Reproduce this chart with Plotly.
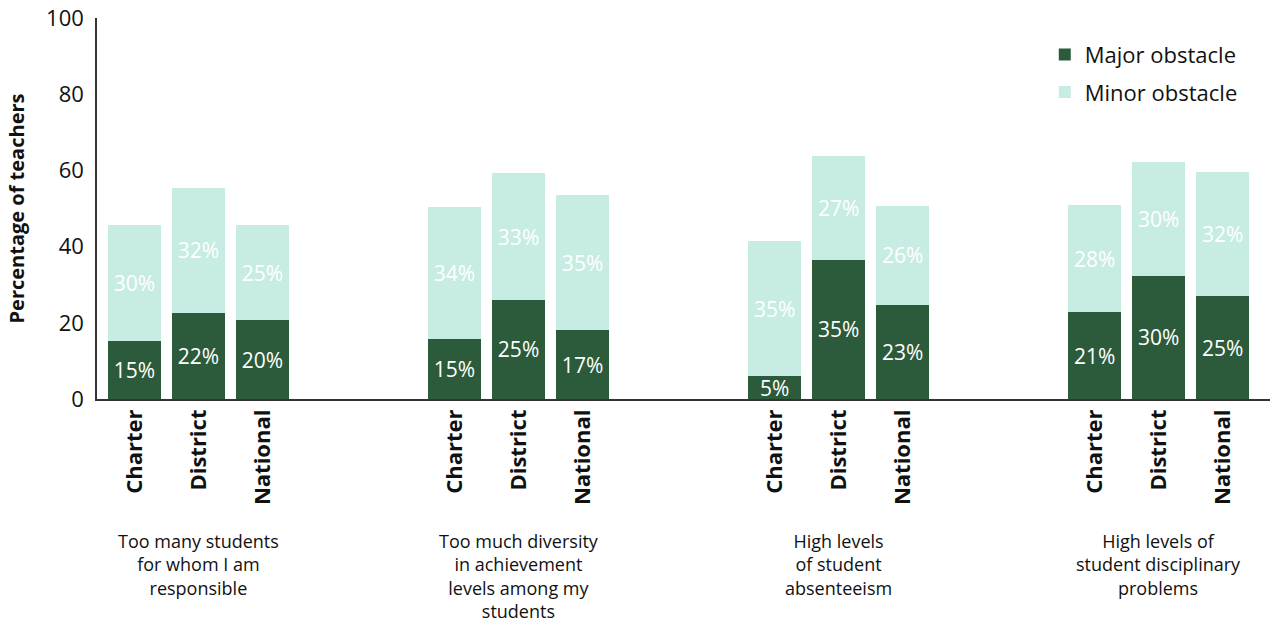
import plotly.graph_objects as go

groups = [
    "Too many students<br>for whom I am<br>responsible",
    "Too much diversity<br>in achievement<br>levels among my<br>students",
    "High levels<br>of student<br>absenteeism",
    "High levels of<br>student disciplinary<br>problems",
]
types = ["Charter", "District", "National"]

# bar heights (percentage of teachers)
major_values = [15.2, 22.6, 20.7, 15.7, 26.0, 18.1, 6.0, 36.5, 24.7, 22.8, 32.3, 27.0]
minor_values = [30.5, 32.8, 25.0, 34.7, 33.3, 35.4, 35.5, 27.3, 26.0, 28.1, 29.9, 32.6]
# printed labels
major_labels = ["15%", "22%", "20%", "15%", "25%", "17%", "5%", "35%", "23%", "21%", "30%", "25%"]
minor_labels = ["30%", "32%", "25%", "34%", "33%", "35%", "35%", "27%", "26%", "28%", "30%", "32%"]

group_step = 5
xpos = [g * group_step + j for g in range(len(groups)) for j in range(len(types))]
xticktext = ["<b>" + t + "</b>" for _ in groups for t in types]
group_centers = [g * group_step + 1 for g in range(len(groups))]

FONT = "Open Sans"
DARK = "#2b5b3a"
LIGHT = "#c7ece3"
INK = "#111111"

W, H = 1275, 624
ML, MR, MT, MB = 97, 5, 18, 225
PLOT_H = H - MT - MB

fig = go.Figure()
fig.add_trace(go.Bar(
    x=xpos, y=major_values, name="Major obstacle", marker_color=DARK,
    marker_line_width=0, width=0.83, text=major_labels, textposition="inside",
    insidetextanchor="middle", textangle=0, constraintext="none",
    textfont=dict(color="white", size=21, family=FONT),
    legendgroup="a",
))
fig.add_trace(go.Bar(
    x=xpos, y=minor_values, name="Minor obstacle", marker_color=LIGHT,
    marker_line_width=0, width=0.83, text=minor_labels, textposition="inside",
    insidetextanchor="middle", textangle=0, constraintext="none",
    textfont=dict(color="white", size=21, family=FONT),
    legendgroup="b",
))

for c, label in zip(group_centers, groups):
    fig.add_annotation(
        x=c, xref="x", y=-128 / PLOT_H, yref="paper", text=label, showarrow=False,
        xanchor="center", yanchor="top", align="center",
        font=dict(size=18, family=FONT, color=INK),
    )

fig.update_layout(
    barmode="stack",
    width=W, height=H,
    margin=dict(l=ML, r=MR, t=MT, b=MB),
    plot_bgcolor="white", paper_bgcolor="white",
    font=dict(family=FONT, color=INK),
    legend=dict(
        x=0.808, xanchor="left", y=0.959, yanchor="top",
        font=dict(size=22, family=FONT, color=INK),
        traceorder="grouped", tracegroupgap=6,
        bgcolor="rgba(0,0,0,0)",
    ),
    showlegend=True,
)
fig.update_xaxes(
    range=[-0.586, 17.74], tickmode="array", tickvals=xpos, ticktext=xticktext,
    tickangle=-90, tickfont=dict(size=22, family=FONT, color=INK),
    showline=True, linecolor="#333333", linewidth=1.5, showgrid=False, ticks="",
    zeroline=False, automargin=False,
)
fig.update_yaxes(
    range=[0, 100], tickvals=[0, 20, 40, 60, 80, 100],
    tickfont=dict(size=22, family=FONT, color=INK), ticklabelstandoff=7,
    ticklabeloverflow="allow",
    showline=True, linecolor="#333333", linewidth=1.5, showgrid=False, ticks="",
    zeroline=False, automargin=False,
    title=dict(text="<b>Percentage of teachers</b>", font=dict(size=20, family=FONT, color=INK), standoff=16),
)

fig.write_html(
    "out.html",
    config={"displayModeBar": False},
    post_script="document.body.style.margin='0';document.body.style.overflow='hidden';",
)
